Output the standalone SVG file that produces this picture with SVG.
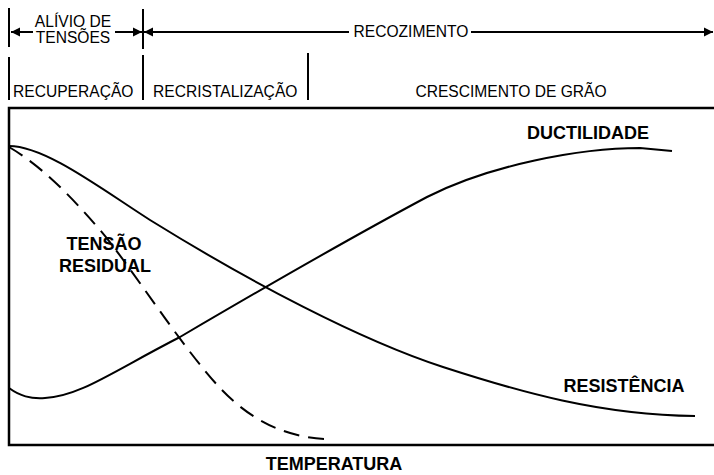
<svg xmlns="http://www.w3.org/2000/svg" width="714" height="475" viewBox="0 0 714 475">
<style>
.t{font-family:"Liberation Sans",Arial,sans-serif;font-size:15.6px;fill:#000}
.b{font-family:"Liberation Sans",Arial,sans-serif;font-size:18px;font-weight:bold;fill:#000}
.ln{stroke:#000;stroke-width:2;fill:none}
.bx{stroke:#000;stroke-width:2.5;fill:none}
.cv{stroke:#000;stroke-width:2;fill:none}
.ds{stroke:#000;stroke-width:2;fill:none;stroke-dasharray:16 9}
</style>
<defs>
<marker id="ah" viewBox="0 0 10 10" refX="10" refY="5" markerWidth="9" markerHeight="14" markerUnits="userSpaceOnUse" orient="auto-start-reverse">
<path d="M0,0 L10,5 L0,10 Z" fill="#000"/>
</marker>
</defs>
<rect width="714" height="475" fill="#fff"/>
<g id="header">
<line class="ln" x1="9" y1="8" x2="9" y2="47"/>
<line class="ln" x1="143" y1="9" x2="143" y2="49"/>
<line class="ln" x1="11" y1="32" x2="33" y2="32" marker-start="url(#ah)"/>
<line class="ln" x1="115" y1="32" x2="142" y2="32" marker-end="url(#ah)"/>
<line class="ln" x1="144" y1="32" x2="349" y2="32" marker-start="url(#ah)"/>
<line class="ln" x1="471" y1="32" x2="713" y2="32" marker-end="url(#ah)"/>
<text class="t" x="73" y="27" text-anchor="middle">ALÍVIO DE</text>
<text class="t" x="73" y="43" text-anchor="middle">TENSÕES</text>
<text class="t" x="411" y="37" text-anchor="middle">RECOZIMENTO</text>
<line class="ln" x1="9" y1="57" x2="9" y2="100"/>
<line class="ln" x1="143" y1="55" x2="143" y2="100"/>
<line class="ln" x1="308" y1="53" x2="308" y2="100"/>
<text class="t" x="13" y="97">RECUPERAÇÃO</text>
<text class="t" x="153" y="97">RECRISTALIZAÇÃO</text>
<text class="t" x="511" y="97" text-anchor="middle">CRESCIMENTO DE GRÃO</text>
</g>
<g id="frame">
<path class="bx" d="M716,108 L9,108 L9,445 L716,445"/>
<text class="b" x="334" y="470" text-anchor="middle">TEMPERATURA</text>
</g>
<g id="connectors">
<path id="resistencia-curve" class="cv" d="M9,146 C45,146 100,188 150,220 C250,282 360,340 443,367 C520,392 600,415 695,416"/>
<path id="ductilidade-curve" class="cv" d="M9,388 C20,396 30,399 45,398 C80,396 110,373 180,337 C260,290 350,238 427,197 C490,165 580,148 640,148 L672,151"/>
<path id="tensao-curve" class="ds" d="M9,147 C40,165 70,195 100,230 C130,265 180,345 220,388 C250,420 285,437 325,439"/>
</g>
<g id="ductilidade"><text class="b" x="588" y="139" text-anchor="middle">DUCTILIDADE</text></g>
<g id="resistencia"><text class="b" x="624" y="392" text-anchor="middle">RESISTÊNCIA</text></g>
<g id="tensao-residual">
<text class="b" x="104" y="250" text-anchor="middle">TENSÃO</text>
<text class="b" x="105" y="272" text-anchor="middle">RESIDUAL</text>
</g>
</svg>
